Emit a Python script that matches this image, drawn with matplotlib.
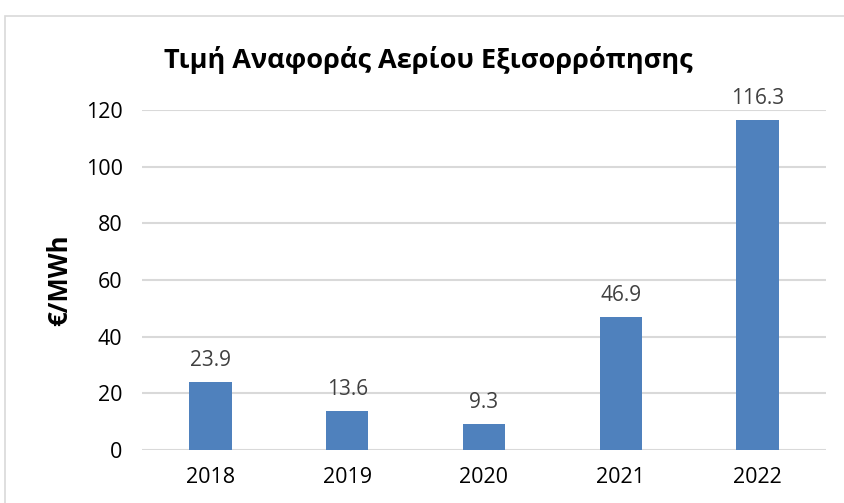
import matplotlib
matplotlib.use("Agg")
import matplotlib.pyplot as plt
from matplotlib.patches import Rectangle

years = ["2018", "2019", "2020", "2021", "2022"]
prices = [23.9, 13.6, 9.3, 46.9, 116.3]
labels = ["23.9", "13.6", "9.3", "46.9", "116.3"]
yticks = [0, 20, 40, 60, 80, 100, 120]
title = "Τιμή Αναφοράς Αερίου Εξισορρόπησης"
ylabel = "€/MWh"

plt.rcParams['font.family'] = ['Open Sans', 'DejaVu Sans']

W, H = 844, 503
fig = plt.figure(figsize=(W/100, H/100), dpi=100)
ax = fig.add_axes([142/W, 1-450/H, (826-142)/W, (450-110)/H])

x = range(len(years))
ax.bar(x, prices, width=0.31, color="#4F81BD", zorder=3)
for xi, v, t in zip(x, prices, labels):
    ax.annotate(t, (xi, v), xytext=(0, 8), textcoords="offset points",
                ha="center", va="bottom", fontsize=15, color="#404040")

ax.set_xlim(-0.5, len(years)-0.5)
ax.set_ylim(0, 120)
ax.set_yticks(yticks)
ax.set_xticks(list(x))
ax.set_xticklabels(years)
ax.tick_params(axis='both', length=0, labelsize=15.5, colors="black")
ax.tick_params(axis='x', pad=12)
ax.tick_params(axis='y', pad=14)
ax.grid(axis='y', color="#D9D9D9", linewidth=1.5, zorder=0)
for s in ax.spines.values():
    s.set_visible(False)

ax.set_ylabel(ylabel, fontsize=18.5, fontweight='bold', va='center')
ax.yaxis.set_label_coords((60-142)/(826-142), 0.5)
fig.text(428/W, 1-60/H, title, ha='center', va='center', fontsize=19.5, fontweight='bold')

fig.patches.append(Rectangle((5/W, -0.1), 1.0, 1-16/H+0.1, transform=fig.transFigure,
                             fill=False, edgecolor="#D9D9D9", linewidth=1.2))

fig.savefig("out.png", dpi=100)
